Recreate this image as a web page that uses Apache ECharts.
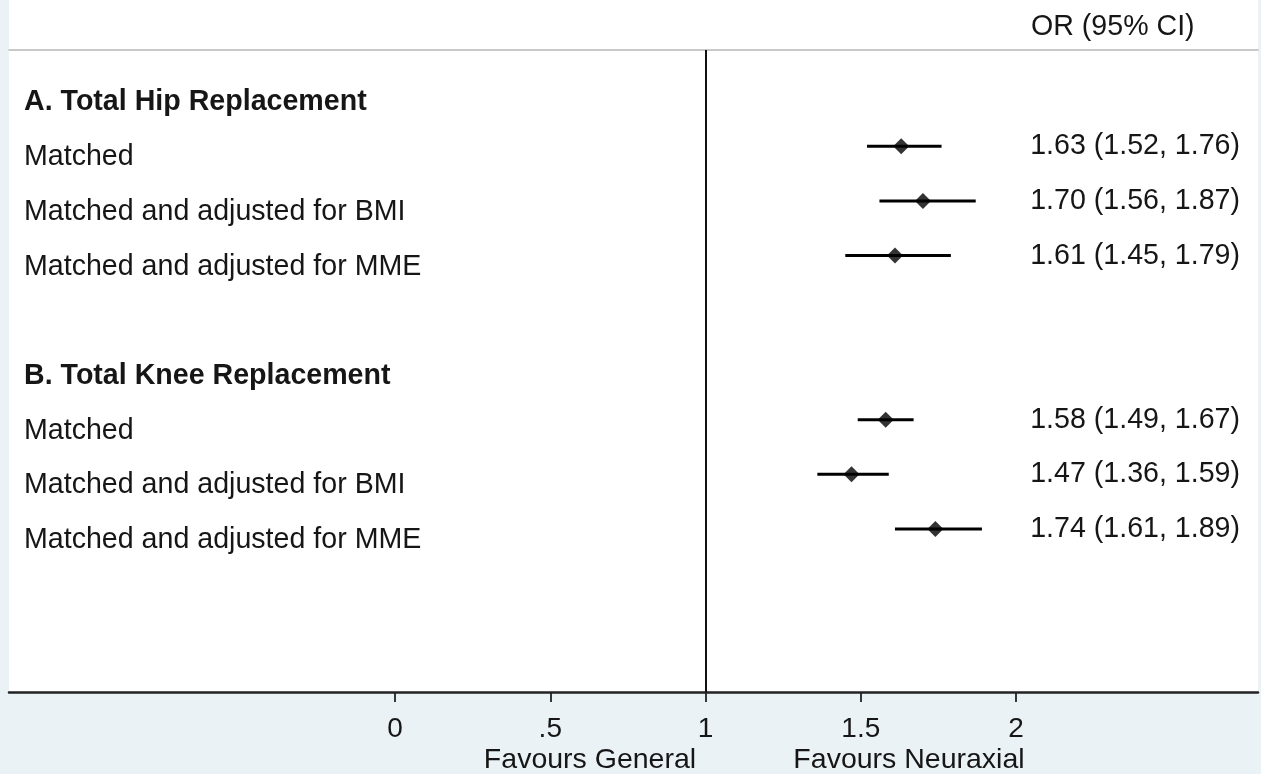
<!DOCTYPE html>
<html>
<head>
<meta charset="utf-8">
<script src="https://cdn.jsdelivr.net/npm/echarts@6/dist/echarts.min.js"></script>
<style>
  html, body { margin: 0; padding: 0; background: #eaf2f6; }
  #chart { width: 1261px; height: 774px; }
</style>
</head>
<body>
<div id="chart"></div>
<script>
// ---- data ----
const rowLabels = [
  'A. Total Hip Replacement',
  'Matched',
  'Matched and adjusted for BMI',
  'Matched and adjusted for MME',
  '',
  'B. Total Knee Replacement',
  'Matched',
  'Matched and adjusted for BMI',
  'Matched and adjusted for MME'
];
const headerRows = [0, 5];
const orValues = [null, 1.63, 1.70, 1.61, null, null, 1.58, 1.47, 1.74];
const ciLower  = [null, 1.52, 1.56, 1.45, null, null, 1.49, 1.36, 1.61];
const ciUpper  = [null, 1.76, 1.87, 1.79, null, null, 1.67, 1.59, 1.89];
const xTicks = [0, 0.5, 1, 1.5, 2];
const xTickLabels = ['0', '.5', '1', '1.5', '2'];
const columnHeader = 'OR (95% CI)';
const favourLeft = 'Favours General';
const favourRight = 'Favours Neuraxial';
const refValue = 1;

// ---- build ----
const FONT = "'Liberation Sans', Arial, sans-serif";
const FS = 28.6;
const TXT = '#161616';
const labelRows = [];
rowLabels.forEach((l, i) => { if (l) labelRows.push(i); });
const estRows = [];
orValues.forEach((v, i) => { if (v != null) estRows.push(i); });
const ciText = i => orValues[i].toFixed(2) + ' (' + ciLower[i].toFixed(2) + ', ' + ciUpper[i].toFixed(2) + ')';

const chart = echarts.init(document.getElementById('chart'), null, { renderer: 'canvas' });
const option = {
  backgroundColor: '#eaf2f6',
  animation: false,
  grid: {
    left: 9, right: 3, top: 50, bottom: 82,
    show: true, backgroundColor: '#ffffff', borderWidth: 0
  },
  xAxis: [
    {
      type: 'value', position: 'bottom', min: -1.243, max: 2.779,
      splitLine: { show: false },
      axisLine: { show: true, onZero: false, lineStyle: { color: '#222', width: 2.5 } },
      axisTick: { show: true, customValues: xTicks, length: 10, lineStyle: { color: '#222', width: 1.8 } },
      axisLabel: {
        customValues: xTicks, margin: 23, color: TXT, fontFamily: FONT, fontSize: 28,
        formatter: v => { const i = xTicks.findIndex(t => Math.abs(t - v) < 1e-9); return i >= 0 ? xTickLabels[i] : ''; }
      }
    },
    {
      type: 'value', position: 'top', min: -1.243, max: 2.779,
      splitLine: { show: false },
      axisLine: { show: true, onZero: false, lineStyle: { color: '#b8b8b8', width: 1.5 } },
      axisTick: { show: false }, axisLabel: { show: false }
    }
  ],
  yAxis: [
    {
      type: 'value', inverse: true, min: -0.76, max: 10.98, position: 'left',
      splitLine: { show: false }, axisLine: { show: false }, axisTick: { show: false },
      axisLabel: {
        inside: true, margin: 15, customValues: labelRows,
        padding: [22, 0, 0, 0],
        color: TXT, fontFamily: FONT, fontSize: FS,
        formatter: v => {
          const i = Math.round(v);
          return headerRows.includes(i) ? '{b|' + rowLabels[i] + '}' : rowLabels[i];
        },
        rich: { b: { fontWeight: 'bold', fontFamily: FONT, fontSize: FS, color: TXT } }
      }
    },
    {
      type: 'value', inverse: true, min: -0.76, max: 10.98, position: 'right',
      splitLine: { show: false }, axisLine: { show: false }, axisTick: { show: false },
      axisLabel: {
        inside: true, margin: 18, customValues: estRows,
        padding: [2, 0, 0, 0],
        color: TXT, fontFamily: FONT, fontSize: FS,
        formatter: v => ciText(Math.round(v))
      }
    }
  ],
  graphic: [
    { type: 'rect', left: 9, top: 0, shape: { width: 1249, height: 50 }, style: { fill: '#ffffff' }, silent: true, z: -1 },
    { type: 'text', x: 1031, y: 27, style: { text: columnHeader, font: FS + "px 'Liberation Sans', Arial, sans-serif", fill: TXT, align: 'left', verticalAlign: 'middle' } },
    { type: 'text', x: 590, y: 760, style: { text: favourLeft, font: "28.5px 'Liberation Sans', Arial, sans-serif", fill: TXT, align: 'center', verticalAlign: 'middle' } },
    { type: 'text', x: 909, y: 760, style: { text: favourRight, font: "28.5px 'Liberation Sans', Arial, sans-serif", fill: TXT, align: 'center', verticalAlign: 'middle' } }
  ],
  series: [
    {
      type: 'custom',
      xAxisIndex: 0, yAxisIndex: 0,
      data: estRows.map(i => [ciLower[i], ciUpper[i], i]),
      encode: { x: [0, 1], y: 2 },
      renderItem: (params, api) => {
        const p1 = api.coord([api.value(0), api.value(2)]);
        const p2 = api.coord([api.value(1), api.value(2)]);
        return {
          type: 'line',
          shape: { x1: p1[0], y1: p1[1], x2: p2[0], y2: p2[1] },
          style: { stroke: '#000', lineWidth: 3 }
        };
      },
      z: 3
    },
    {
      type: 'scatter',
      xAxisIndex: 0, yAxisIndex: 0,
      symbol: 'diamond', symbolSize: [16, 16],
      itemStyle: { color: '#000' },
      data: estRows.map(i => [orValues[i], i]),
      z: 4,
      markLine: {
        silent: true, symbol: 'none', label: { show: false },
        lineStyle: { color: '#111', width: 2, type: 'solid' },
        data: [{ xAxis: refValue }]
      }
    }
  ]
};
chart.setOption(option);
</script>
</body>
</html>
